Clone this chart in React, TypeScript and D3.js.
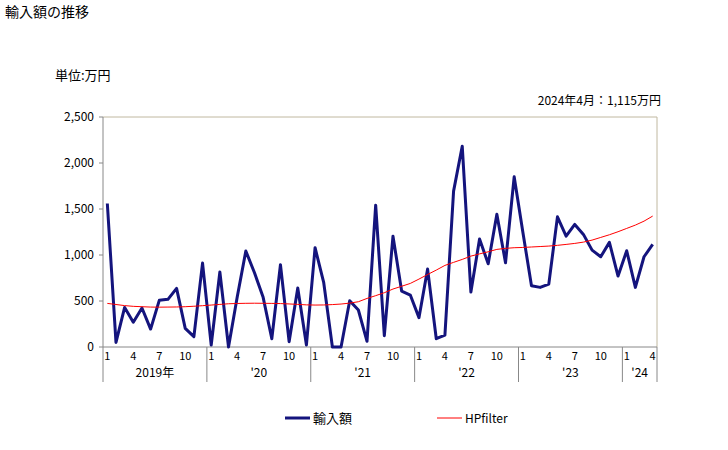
import React from "react";
import * as d3 from "d3";

const months: string[] = [];
for (let y = 2019; y <= 2024; y++) {
  const last = y === 2024 ? 4 : 12;
  for (let m = 1; m <= last; m++) months.push(`${y}-${m}`);
}

const importValues = [
  1560, 50, 430, 270, 424, 195, 507, 518, 637, 203, 112, 912,
  22, 815, 0, 540, 1043, 807, 540, 90, 894, 58, 641, 22,
  1079, 699, 0, 0, 503, 402, 62, 1542, 123, 1205, 608, 565,
  319, 847, 90, 130, 1694, 2183, 597, 1173, 905, 1444, 916, 1850,
  1250, 666, 648, 684, 1415, 1205, 1332, 1224, 1053, 981, 1137, 771,
  1046, 648, 981, 1115,
];

const hpValues = [
  474, 462, 450, 442, 438, 434, 433, 434, 435, 438, 443, 449,
  456, 463, 470, 473, 475, 476, 475, 474, 472, 468, 463, 458,
  456, 457, 461, 467, 477, 492, 528, 558, 590, 630, 660, 691,
  738, 788, 836, 887, 920, 952, 988, 1012, 1035, 1061, 1072, 1079,
  1082, 1087, 1092, 1097, 1105, 1115, 1126, 1140, 1162, 1191, 1220, 1253,
  1289, 1325, 1368, 1423,
];

const yTicks = [0, 500, 1000, 1500, 2000, 2500];
const monthTickLabels = [1, 4, 7, 10];
const yearLabels = ["2019年", "'20", "'21", "'22", "'23", "'24"];

const W = 728, H = 450;
const L = 103, R = 657, T = 117, B = 347;
const font = "'Noto Sans CJK JP', 'DejaVu Sans', sans-serif";

export default function App() {
  const x = d3.scaleBand<string>().domain(months).range([L, R]);
  const y = d3.scaleLinear().domain([0, 2500]).range([B, T]);
  const cx = (m: string) => (x(m) as number) + x.bandwidth() / 2;
  const line = d3.line<number>().x((_, i) => cx(months[i])).y((d) => y(d));

  const years = d3.groups(months, (m) => m.split("-")[0]);

  return (
    <svg width={W} height={H} style={{ position: "absolute", left: 0, top: 0 }} fontFamily={font}>
      <rect width={W} height={H} fill="#fff" />
      <text x={5} y={17} fontSize={14}>輸入額の推移</text>
      <text x={55} y={80} fontSize={13}>単位:万円</text>
      <text x={661} y={105} fontSize={12} textAnchor="end">2024年4月：1,115万円</text>

      {/* plot frame */}
      <line x1={L} x2={R} y1={T} y2={T} stroke="#c0b8a0" />
      <line x1={R} x2={R} y1={T} y2={B} stroke="#c0b8a0" />
      <line x1={L} x2={L} y1={T} y2={382} stroke="#888" />
      <line x1={L} x2={R} y1={B} y2={B} stroke="#888" />

      {yTicks.map((t) => (
        <g key={t}>
          <line x1={L - 4} x2={L} y1={y(t)} y2={y(t)} stroke="#888" />
          <text x={94} y={y(t) + 4} fontSize={12} textAnchor="end">{d3.format(",")(t)}</text>
        </g>
      ))}

      {years.map(([yr, ms], i) => {
        const x0 = x(ms[0]) as number;
        const x1 = (x(ms[ms.length - 1]) as number) + x.bandwidth();
        return (
          <g key={yr}>
            <line x1={x1} x2={x1} y1={B} y2={382} stroke="#888" />
            {ms.map((m) => {
              const mo = +m.split("-")[1];
              return monthTickLabels.includes(mo) ? (
                <text key={m} x={cx(m)} y={360} fontSize={11} textAnchor="middle">{mo}</text>
              ) : null;
            })}
            <text x={(x0 + x1) / 2} y={377} fontSize={12} textAnchor="middle">{yearLabels[i]}</text>
          </g>
        );
      })}

      <path d={line(importValues) || ""} fill="none" stroke="#14147d" strokeWidth={3} strokeLinejoin="round" />
      <path d={line(hpValues) || ""} fill="none" stroke="#ff0000" strokeWidth={1} />

      <line x1={285} x2={310} y1={418} y2={418} stroke="#14147d" strokeWidth={3} />
      <text x={313} y={423} fontSize={13}>輸入額</text>
      <line x1={437} x2={462} y1={418} y2={418} stroke="#ff0000" strokeWidth={1} />
      <text x={465} y={423} fontSize={12}>HPfilter</text>
    </svg>
  );
}
